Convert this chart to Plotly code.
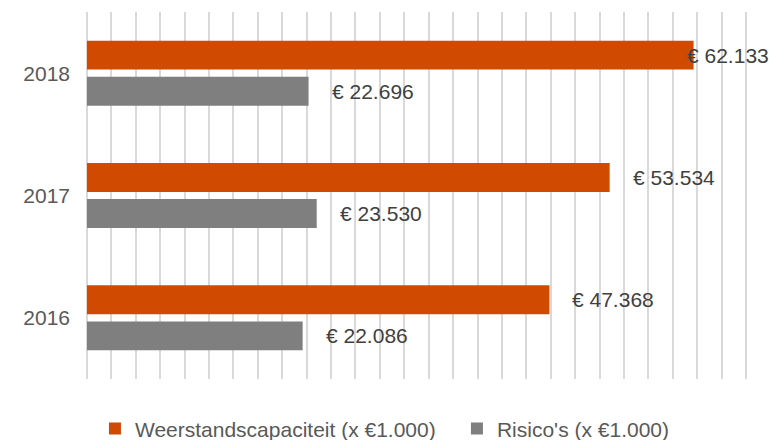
import plotly.graph_objects as go

years = ["2016", "2017", "2018"]
weerstand = [47368, 53534, 62133]
risicos = [22086, 23530, 22696]
series_names = ["Weerstandscapaciteit (x €1.000)", "Risico's (x €1.000)"]

ORANGE = "#D04A02"
GRAY = "#7F7F7F"
FONT = "Liberation Sans, Arial, sans-serif"

W, H = 769, 440
ML, MR, MT, MB = 87, 20, 12, 61
XMAX = 67807
plot_w = W - ML - MR

def fmt(v):
    return "€ " + f"{v:,}".replace(",", ".")

fig = go.Figure()
fig.add_trace(go.Bar(y=years, x=risicos, orientation="h", name=series_names[1],
                     marker=dict(color=GRAY, line=dict(width=0)), legendrank=2))
fig.add_trace(go.Bar(y=years, x=weerstand, orientation="h", name=series_names[0],
                     marker=dict(color=ORANGE, line=dict(width=0)), legendrank=1,
                     legendwidth=317))

annotations = []
label_w = 82
for vals, shift in ((weerstand, 18), (risicos, -18)):
    for i, v in enumerate(vals):
        px = ML + v / XMAX * plot_w
        xs = min(21, (W - 2 - label_w) - px)
        annotations.append(dict(x=v, y=i, xref="x", yref="y", text=fmt(v),
                                showarrow=False, xanchor="left", yanchor="middle",
                                xshift=xs, yshift=shift,
                                font=dict(family=FONT, size=21, color="#404040")))

fig.update_layout(
    width=W, height=H,
    margin=dict(l=ML, r=MR, t=MT, b=MB, autoexpand=False),
    paper_bgcolor="white", plot_bgcolor="white",
    barmode="group", bargap=0.41, bargroupgap=0.2,
    font=dict(family=FONT, size=21, color="#595959"),
    xaxis=dict(range=[0, XMAX], dtick=2500, tick0=0, showgrid=True,
               gridcolor="#D9D9D9", gridwidth=1.5, zeroline=True,
               zerolinecolor="#D9D9D9", zerolinewidth=1.5,
               showticklabels=False, showline=False, fixedrange=True,
               automargin=False),
    yaxis=dict(type="category", categoryorder="array", categoryarray=years,
               range=[-0.5, len(years) - 0.5], autorange=False, fixedrange=True,
               showgrid=False, zeroline=False, showline=False, automargin=False,
               ticklabelstandoff=16, tickfont=dict(size=21, color="#595959")),
    legend=dict(orientation="h", x=0.012, xanchor="left", y=-0.136, yanchor="middle",
                font=dict(size=21, color="#595959")),
    annotations=annotations,
    showlegend=True,
)

fig.write_html("out.html", config={"displayModeBar": False},
               post_script="document.body.style.margin='0';document.body.style.overflow='hidden';")
